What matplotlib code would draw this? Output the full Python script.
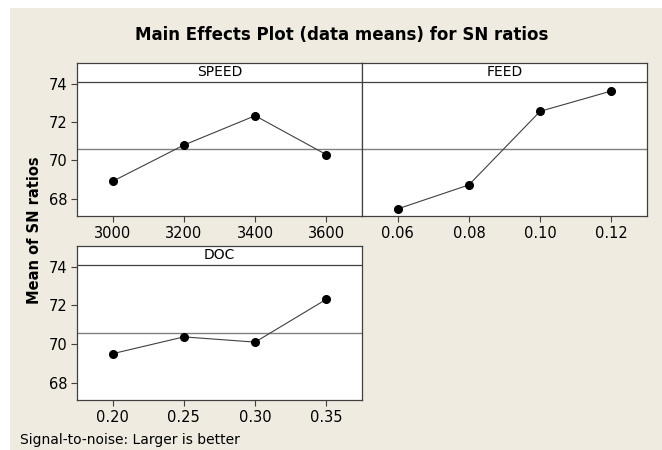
import matplotlib
matplotlib.use("Agg")
import matplotlib.pyplot as plt
from matplotlib.patches import Rectangle
from matplotlib.transforms import blended_transform_factory

# Data
speed_levels = [3000, 3200, 3400, 3600]
speed_sn = [68.91, 70.80, 72.33, 70.30]
feed_levels = [0.06, 0.08, 0.10, 0.12]
feed_sn = [67.47, 68.72, 72.56, 73.62]
doc_levels = [0.20, 0.25, 0.30, 0.35]
doc_sn = [69.50, 70.37, 70.10, 72.32]
speed_ticks = ["3000", "3200", "3400", "3600"]
feed_ticks = ["0.06", "0.08", "0.10", "0.12"]
doc_ticks = ["0.20", "0.25", "0.30", "0.35"]
grand_mean = 70.58

BG = "#EFEBE1"
W, H = 662, 450
fig = plt.figure(figsize=(W / 100, H / 100), dpi=100, facecolor="white")
fig.patches.append(Rectangle((10 / W, 0), 1 - 10 / W, 1 - 8 / H, transform=fig.transFigure,
                             facecolor=BG, edgecolor="none", zorder=-10))

def px(l, t, r, b):
    return [l / W, 1 - b / H, (r - l) / W, (b - t) / H]

panels = [
    ("SPEED", speed_levels, speed_sn, speed_ticks, px(77, 63, 362, 216), (2900, 3700), True),
    ("FEED", feed_levels, feed_sn, feed_ticks, px(362, 63, 647, 216), (0.05, 0.13), False),
    ("DOC", doc_levels, doc_sn, doc_ticks, px(77, 246, 362, 400), (0.175, 0.375), True),
]

EDGE = "#404040"
YTOP = 75.08
STRIP = 74.1
for name, xs, ys, tl, pos, xl, showy in panels:
    ax = fig.add_axes(pos)
    ax.set_facecolor("white")
    ax.set_xlim(*xl)
    ax.set_ylim(67.1, YTOP)
    ax.axhline(STRIP, color=EDGE, lw=0.9, zorder=1)
    ax.axhline(grand_mean, color="#808080", lw=1.0, zorder=1)
    ax.plot(xs, ys, color="#404040", lw=0.8, marker="o", markersize=5.5,
            markerfacecolor="black", markeredgecolor="black", zorder=3)
    ax.text(0.5, (STRIP + YTOP) / 2, name,
            transform=blended_transform_factory(ax.transAxes, ax.transData),
            ha="center", va="center", fontsize=10, color="black")
    ax.set_xticks(xs)
    ax.set_xticklabels(tl, fontsize=10.5)
    ax.tick_params(direction="out", length=4, width=0.8, color=EDGE, pad=3)
    if showy:
        ax.set_yticks([68, 70, 72, 74])
        ax.set_yticklabels(["68", "70", "72", "74"], fontsize=10.5)
    else:
        ax.set_yticks([])
    for s in ax.spines.values():
        s.set_color(EDGE)
        s.set_linewidth(0.9)

fig.text(342 / W, 1 - 35 / H, "Main Effects Plot (data means) for SN ratios",
         ha="center", va="center", fontsize=12, fontweight="bold")
fig.text(35 / W, 1 - 230 / H, "Mean of SN ratios", rotation=90, ha="center", va="center",
         fontsize=10.5, fontweight="bold")
fig.text(20 / W, 1 - 440 / H, "Signal-to-noise: Larger is better", ha="left", va="center",
         fontsize=10)

fig.savefig("out.png", dpi=100, facecolor=fig.get_facecolor())
